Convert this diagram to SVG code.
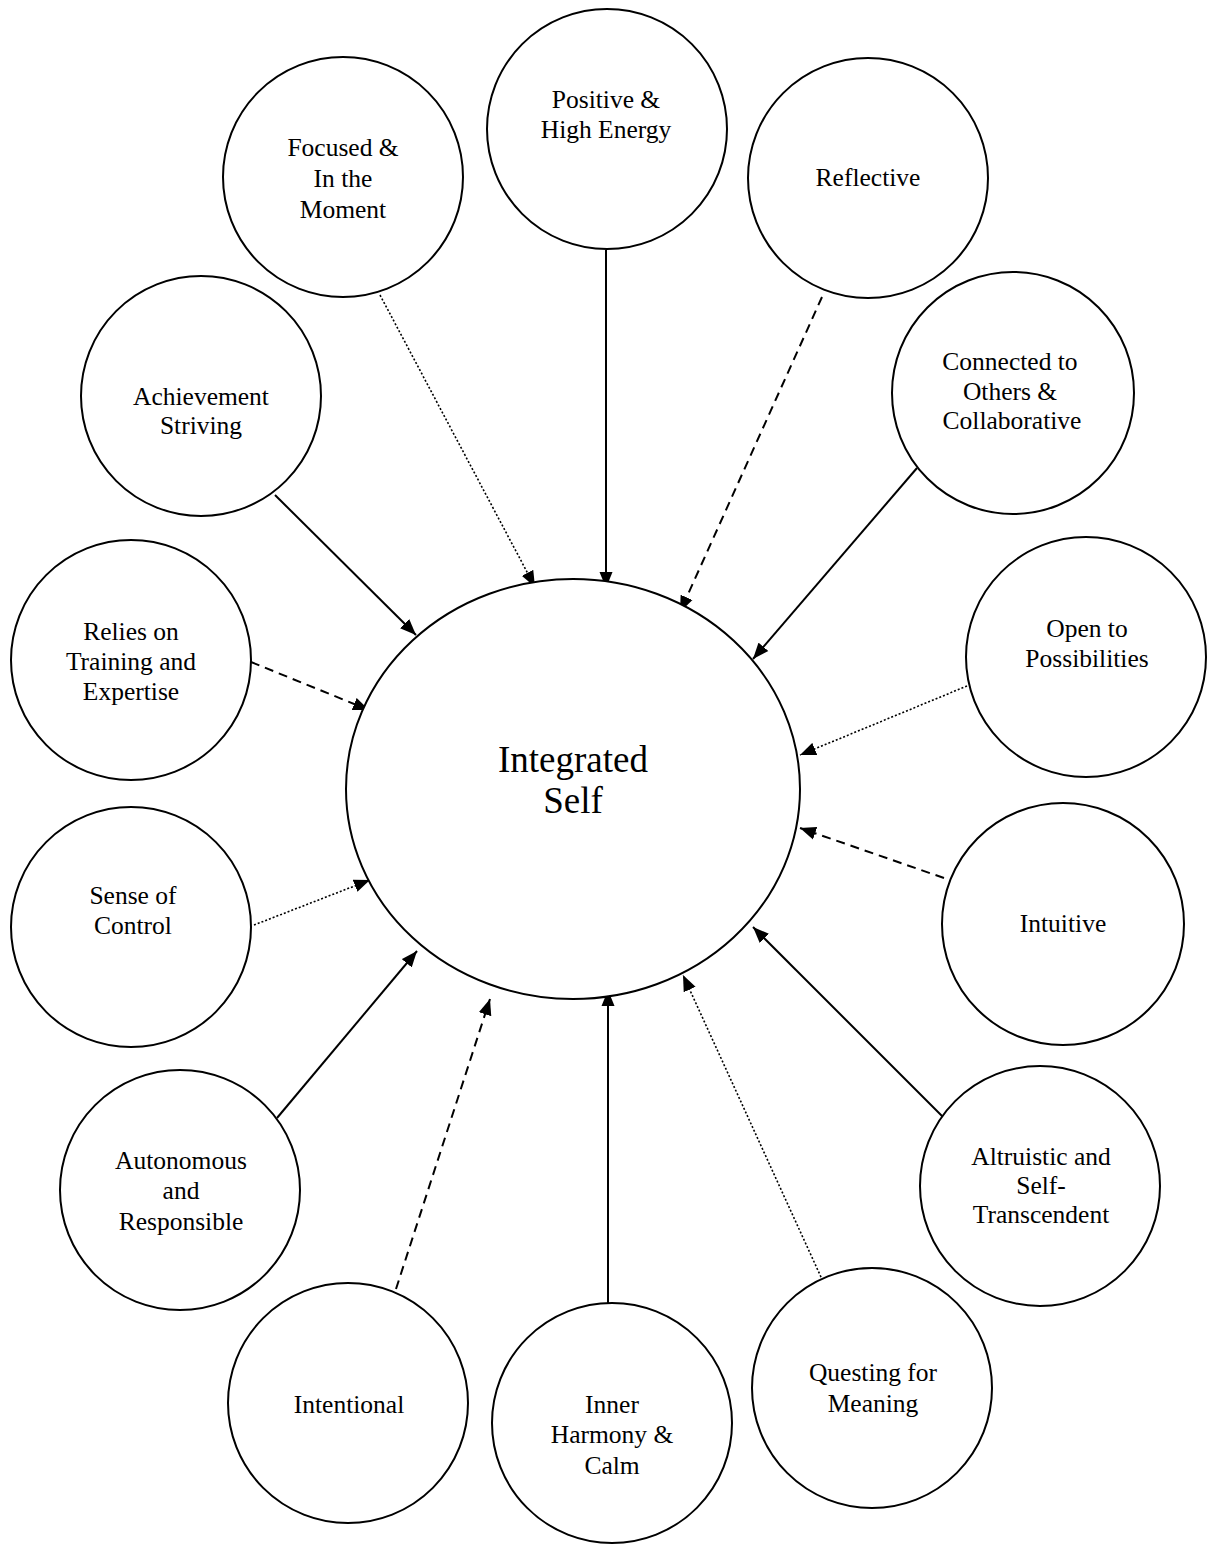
<svg xmlns="http://www.w3.org/2000/svg" width="1209" height="1545" viewBox="0 0 1209 1545">
<style>
.n{fill:#fff;stroke:#000;stroke-width:2}
.t{font-family:"Liberation Serif","Times New Roman",serif;font-size:25.5px;fill:#000;text-anchor:middle}
.c{font-size:37px}
.l{stroke:#000;fill:none;marker-end:url(#ah)}
.s{stroke-width:2}
.d{stroke-width:2;stroke-dasharray:9,6}
.o{stroke-width:1.6;stroke-dasharray:2,2}
</style>
<defs>
<marker id="ah" markerUnits="userSpaceOnUse" markerWidth="18" markerHeight="14" refX="16" refY="6.5" orient="auto" viewBox="0 0 18 13">
<path d="M0,0 L16,6.5 L0,13 z" fill="#000"/>
</marker>
</defs>
<rect width="1209" height="1545" fill="#fff"/>
<g id="connectors">
<line class="l o" x1="380" y1="295" x2="535" y2="587"/>
<line class="l s" x1="606" y1="250" x2="606" y2="588"/>
<line class="l d" x1="822" y1="297" x2="680" y2="612"/>
<line class="l s" x1="275" y1="495" x2="416" y2="635"/>
<line class="l s" x1="917" y1="468" x2="753" y2="659"/>
<line class="l d" x1="251" y1="662" x2="369" y2="710"/>
<line class="l o" x1="967" y1="686" x2="800" y2="755"/>
<line class="l o" x1="254" y1="925" x2="370" y2="880"/>
<line class="l d" x1="944" y1="878" x2="800" y2="828"/>
<line class="l s" x1="277" y1="1118" x2="417" y2="951"/>
<line class="l s" x1="943" y1="1117" x2="753" y2="927"/>
<line class="l d" x1="396" y1="1289" x2="490" y2="999"/>
<line class="l s" x1="608" y1="1312" x2="608" y2="990"/>
<line class="l o" x1="826" y1="1288" x2="683" y2="975"/>
</g>
<g id="integrated-self">
<ellipse class="n" cx="573" cy="789" rx="227" ry="210"/>
<text class="t c" x="573" y="772">Integrated</text>
<text class="t c" x="573" y="813">Self</text>
</g>
<g id="positive">
<circle class="n" cx="607" cy="129" r="120"/>
<text class="t" x="606" y="108">Positive &amp;</text>
<text class="t" x="606" y="138">High Energy</text>
</g>
<g id="focused">
<circle class="n" cx="343" cy="177" r="120"/>
<text class="t" x="343" y="156">Focused &amp;</text>
<text class="t" x="343" y="187">In the</text>
<text class="t" x="343" y="218">Moment</text>
</g>
<g id="reflective">
<circle class="n" cx="868" cy="178" r="120"/>
<text class="t" x="868" y="186">Reflective</text>
</g>
<g id="achievement">
<circle class="n" cx="201" cy="396" r="120"/>
<text class="t" x="201" y="405">Achievement</text>
<text class="t" x="201" y="434">Striving</text>
</g>
<g id="connected">
<circle class="n" cx="1013" cy="393" r="121"/>
<text class="t" x="1010" y="370">Connected to</text>
<text class="t" x="1010" y="400">Others &amp;</text>
<text class="t" x="1012" y="429">Collaborative</text>
</g>
<g id="relies">
<circle class="n" cx="131" cy="660" r="120"/>
<text class="t" x="131" y="640">Relies on</text>
<text class="t" x="131" y="670">Training and</text>
<text class="t" x="131" y="700">Expertise</text>
</g>
<g id="open">
<circle class="n" cx="1086" cy="657" r="120"/>
<text class="t" x="1087" y="637">Open to</text>
<text class="t" x="1087" y="667">Possibilities</text>
</g>
<g id="sense">
<circle class="n" cx="131" cy="927" r="120"/>
<text class="t" x="133" y="904">Sense of</text>
<text class="t" x="133" y="934">Control</text>
</g>
<g id="intuitive">
<circle class="n" cx="1063" cy="924" r="121"/>
<text class="t" x="1063" y="932">Intuitive</text>
</g>
<g id="autonomous">
<circle class="n" cx="180" cy="1190" r="120"/>
<text class="t" x="181" y="1169">Autonomous</text>
<text class="t" x="181" y="1199">and</text>
<text class="t" x="181" y="1230">Responsible</text>
</g>
<g id="altruistic">
<circle class="n" cx="1040" cy="1186" r="120"/>
<text class="t" x="1041" y="1165">Altruistic and</text>
<text class="t" x="1041" y="1194">Self-</text>
<text class="t" x="1041" y="1223">Transcendent</text>
</g>
<g id="intentional">
<circle class="n" cx="348" cy="1403" r="120"/>
<text class="t" x="349" y="1413">Intentional</text>
</g>
<g id="inner-harmony">
<circle class="n" cx="612" cy="1423" r="120"/>
<text class="t" x="612" y="1413">Inner</text>
<text class="t" x="612" y="1443">Harmony &amp;</text>
<text class="t" x="612" y="1474">Calm</text>
</g>
<g id="questing">
<circle class="n" cx="872" cy="1388" r="120"/>
<text class="t" x="873" y="1381">Questing for</text>
<text class="t" x="873" y="1412">Meaning</text>
</g>
</svg>
